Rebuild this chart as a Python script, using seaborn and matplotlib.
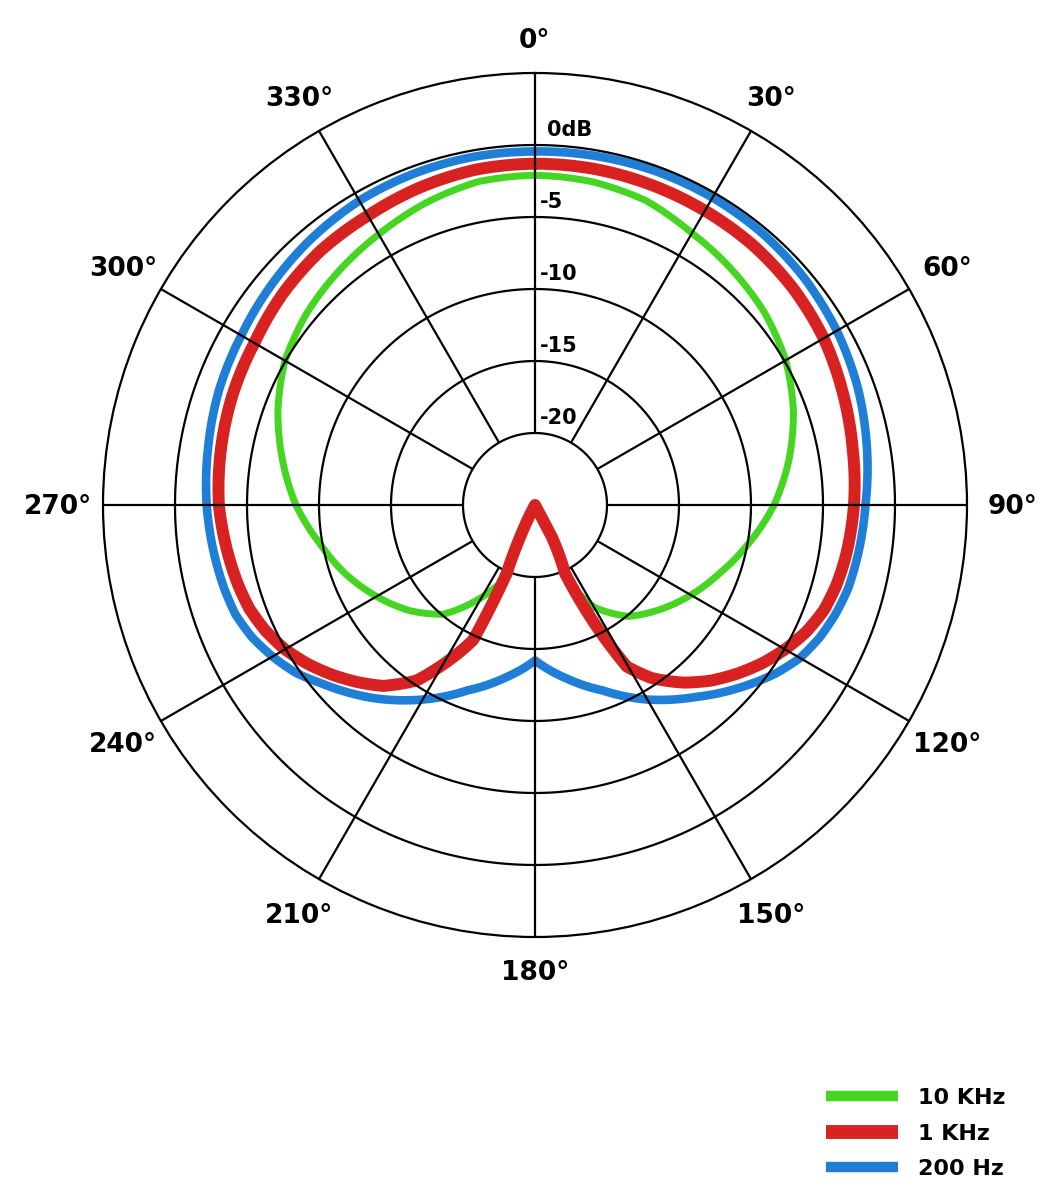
import numpy as np
import pandas as pd
import seaborn as sns
import matplotlib.pyplot as plt
from matplotlib.lines import Line2D

# polar response, angle in degrees (clockwise from front) and level in dB
ang_200 = [0, 10, 20, 30, 40, 50, 60, 70, 80, 90, 95, 100, 105, 110, 115, 120, 125, 130, 135, 140, 150, 160, 170, 180,
           190, 200, 210, 220, 225, 230, 235, 240, 245, 250, 255, 260, 265, 270, 280, 290, 300, 310, 320, 330, 340, 350, 360]
db_200 = [-0.45, -0.4, -0.35, -0.35, -0.4, -0.55, -0.8, -1.15, -1.6, -2.05, -2.2, -2.35, -2.5, -2.8, -3.2, -3.75, -4.6, -5.6, -6.6, -7.6, -9.4, -11.3, -12.8, -14.2,
          -12.8, -11.3, -9.4, -7.5, -6.6, -5.7, -4.7, -3.95, -3.3, -2.85, -2.65, -2.5, -2.35, -2.2, -1.95, -1.65, -1.45, -1.15, -0.85, -0.6, -0.5, -0.45, -0.45]

ang_1k = [0, 10, 20, 30, 40, 50, 60, 70, 80, 90, 95, 100, 105, 110, 115, 120, 125, 130, 135, 140, 146, 150.4, 153.1, 156.3, 152.2, 152, 208,
          205, 202.5, 204.6, 210, 214, 220, 225, 230, 235, 240, 245, 250, 255, 260, 265, 270, 280, 290, 300, 310, 320, 330, 340, 350, 360]
db_1k = [-1.3, -1.3, -1.35, -1.4, -1.45, -1.6, -1.85, -2.25, -2.6, -2.85, -3.0, -3.15, -3.35, -3.65, -4.2, -4.95, -5.8, -6.75, -7.75, -8.9, -10.5, -12.1, -15.5, -19.8, -22.5, -25, -25,
         -22.6, -19.9, -14.7, -12.2, -10.3, -8.6, -7.6, -6.65, -5.75, -4.95, -4.35, -3.9, -3.65, -3.45, -3.25, -3.05, -2.85, -2.65, -2.5, -2.15, -1.9, -1.8, -1.55, -1.35, -1.3]

ang_10k = [0, 10, 20, 30, 40, 50, 60, 70, 80, 90, 100, 110, 120, 130, 140, 150, 156.5, 155, 153, 207,
           205, 203.5, 210, 220, 230, 240, 250, 260, 270, 280, 290, 300, 310, 320, 330, 340, 350, 360]
db_10k = [-2.1, -2.2, -2.5, -3.2, -3.7, -4.2, -4.9, -5.9, -7.1, -8.4, -9.9, -11.3, -12.5, -13.7, -14.9, -16.8, -19.2, -22.3, -25, -25,
          -22.3, -19.2, -17.6, -15.1, -13.6, -12.3, -11.0, -9.8, -8.4, -7.2, -6.0, -4.95, -4.3, -3.8, -3.3, -2.7, -2.2, -2.1]

ring_levels = [-20, -15, -10, -5, 0]
ring_labels = ['-20', '-15', '-10', '-5', '0dB']
spoke_angles = [0, 30, 60, 90, 120, 150, 180, 210, 240, 270, 300, 330]
series_names = ['10 KHz', '1 KHz', '200 Hz']
colors = {'10 KHz': '#44d620', '1 KHz': '#d82222', '200 Hz': '#1f7fd6'}

sns.set_style('white')
plt.rcParams['font.family'] = ['DejaVu Sans']
plt.rcParams['text.color'] = 'black'

fig = plt.figure(figsize=(10.57, 11.92), dpi=100)
ax = fig.add_axes([103 / 1057, 255 / 1192, 864 / 1057, 864 / 1192], projection='polar')
ax.set_theta_zero_location('N')
ax.set_theta_direction(-1)

df = pd.concat([
    pd.DataFrame({'theta': np.deg2rad(ang_200), 'db': db_200, 'freq': '200 Hz'}),
    pd.DataFrame({'theta': np.deg2rad(ang_10k), 'db': db_10k, 'freq': '10 KHz'}),
    pd.DataFrame({'theta': np.deg2rad(ang_1k), 'db': db_1k, 'freq': '1 KHz'}),
])
widths = {'200 Hz': 6.2, '10 KHz': 5.0, '1 KHz': 8.6}
for i, name in enumerate(['200 Hz', '10 KHz', '1 KHz']):
    sns.lineplot(data=df[df.freq == name], x='theta', y='db', ax=ax, sort=False, estimator=None,
                 color=colors[name], lw=widths[name], zorder=3 + i)
    # draw segments along the polar grid instead of as straight chords
    ax.lines[-1].get_path()._interpolation_steps = 30

ax.set_ylim(-25, 5)
ax.grid(False)
ax.set_xticks([])
ax.set_yticks([])
ax.set_xlabel('')
ax.set_ylabel('')
ax.spines['polar'].set_linewidth(1.6)
ax.spines['polar'].set_color('black')

# grid rings and spokes
full = np.linspace(0, 2 * np.pi, 721)
for lev in ring_levels:
    ax.plot(full, np.full_like(full, lev), color='black', lw=1.6, zorder=2 if lev == -20 else 10)
for a in spoke_angles:
    t = np.deg2rad(a)
    ax.plot([t, t], [-20, 5], color='black', lw=1.6, zorder=10, solid_capstyle='butt')

# dB labels
for lev, lab in zip(ring_levels, ring_labels):
    dx = 9 if lab == '0dB' else 3.5
    ax.annotate(lab, xy=(0, lev), xytext=(dx, 11), textcoords='offset points',
                ha='left', va='center', fontsize=15, fontweight='bold', zorder=11)

# angle labels
for a in spoke_angles:
    t = np.deg2rad(a)
    r = 7.35 + 0.8 * abs(np.sin(t))
    ax.annotate(f'{a}°', xy=(t, r), xytext=(0, -1.5), textcoords='offset points',
                ha='center', va='center', fontsize=19, fontweight='bold', annotation_clip=False)

handles = [Line2D([], [], color=colors[n], lw=lw, solid_capstyle='butt')
           for n, lw in zip(series_names, [7.5, 10, 7.5])]
fig.legend(handles, series_names, loc='upper left', bbox_to_anchor=(826 / 1057, 1 - 1088 / 1192),
           frameon=False, prop={'weight': 'bold', 'size': 16},
           handlelength=3.25, handletextpad=0.9, labelspacing=0.7, borderpad=0, borderaxespad=0)

fig.savefig('out.png', dpi=100, facecolor='white')
